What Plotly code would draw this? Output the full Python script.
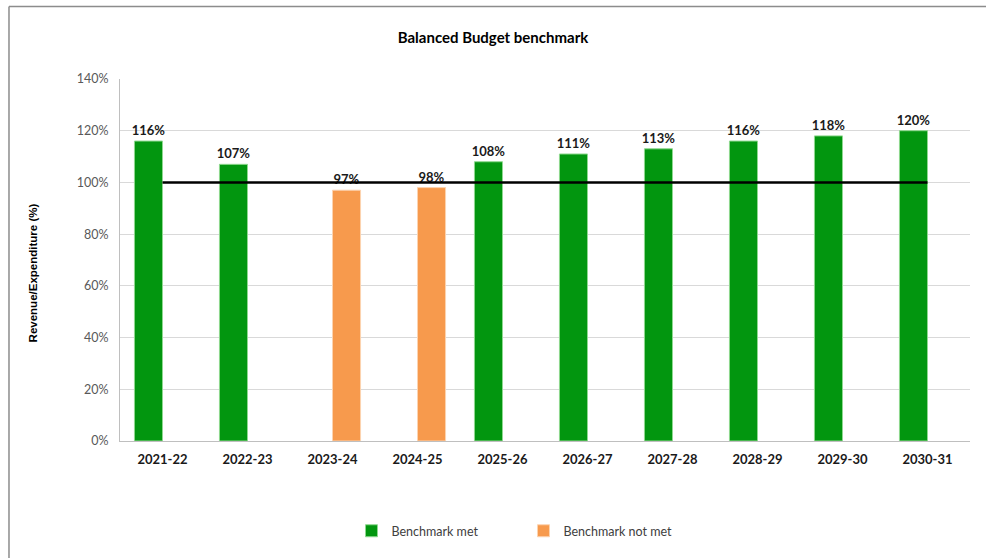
import plotly.graph_objects as go

# Financial years
years = ['2021-22', '2022-23', '2023-24', '2024-25', '2025-26',
         '2026-27', '2027-28', '2028-29', '2029-30', '2030-31']

# Revenue / expenditure ratio (%), split by whether the benchmark was met
met = [116, 107, None, None, 108, 111, 113, 116, 118, 120]
not_met = [None, None, 97, 98, None, None, None, None, None, None]
benchmark = [100] * len(years)

GREEN = '#02960F'
ORANGE = '#F79A4D'
FONT = 'Lato'

fig = go.Figure()

fig.add_trace(go.Bar(
    x=years, y=met, name='Benchmark met',
    marker=dict(color=GREEN, line=dict(color='#8fd88f', width=1)),
    texttemplate='%{y:.0f}%', textposition='outside', cliponaxis=False,
    constraintext='none',
    textfont=dict(family=FONT, size=13, color='#1a1a1a', weight='bold'),
))
fig.add_trace(go.Bar(
    x=years, y=not_met, name='Benchmark not met',
    marker=dict(color=ORANGE, line=dict(color='#fcd3b0', width=1)),
    texttemplate='%{y:.0f}%', textposition='outside', cliponaxis=False,
    constraintext='none',
    textfont=dict(family=FONT, size=13, color='#1a1a1a', weight='bold'),
))
fig.add_trace(go.Scatter(
    x=years, y=benchmark, mode='lines', showlegend=False,
    line=dict(color='black', width=2.5), hoverinfo='skip',
))

fig.update_layout(
    width=986, height=558,
    margin=dict(l=120, r=16, t=79, b=110),
    paper_bgcolor='white', plot_bgcolor='white',
    font=dict(family=FONT, size=12, color='#404040'),
    barmode='group', bargap=0.34, bargroupgap=0,
    title=dict(text='<b>Balanced Budget benchmark</b>', x=0.5, xanchor='center',
               y=1 - 38 / 558, yanchor='middle',
               font=dict(family=FONT, size=15, color='black')),
    legend=dict(orientation='h', x=0.4747, xanchor='center', y=-0.249, yanchor='middle',
                font=dict(family=FONT, size=12.5, color='#404040'),
                entrywidth=127, traceorder='normal'),
    yaxis=dict(range=[0, 140], dtick=20, ticksuffix='%', showgrid=True,
               gridcolor='#d9d9d9', gridwidth=1, showline=True, linecolor='#bfbfbf',
               zeroline=False, ticklabelstandoff=8,
               tickfont=dict(family=FONT, size=12.5, color='#595959')),
    xaxis=dict(showline=True, linecolor='#bfbfbf', ticklabelstandoff=6,
               tickfont=dict(family=FONT, size=13, color='#1a1a1a', weight='bold')),
    shapes=[
        dict(type='line', xref='paper', yref='paper', x0=-0.1306, x1=1.1, y0=1.2005, y1=1.2005,
             line=dict(color='#8c8c8c', width=1.5)),
        dict(type='line', xref='paper', yref='paper', x0=-0.1306, x1=-0.1306, y0=1.2005, y1=-0.35,
             line=dict(color='#8c8c8c', width=1.5)),
    ],
    annotations=[
        dict(text='<b>Revenue/Expenditure (%)</b>', textangle=-90, xref='paper', yref='paper',
             x=(33 - 120) / 850, y=0.463, xanchor='center', yanchor='middle', showarrow=False,
             font=dict(family='Liberation Sans', size=11.5, color='black')),
    ],
)

fig.write_html('out.html', config={'displayModeBar': False},
               post_script="document.body.style.margin='0';")
